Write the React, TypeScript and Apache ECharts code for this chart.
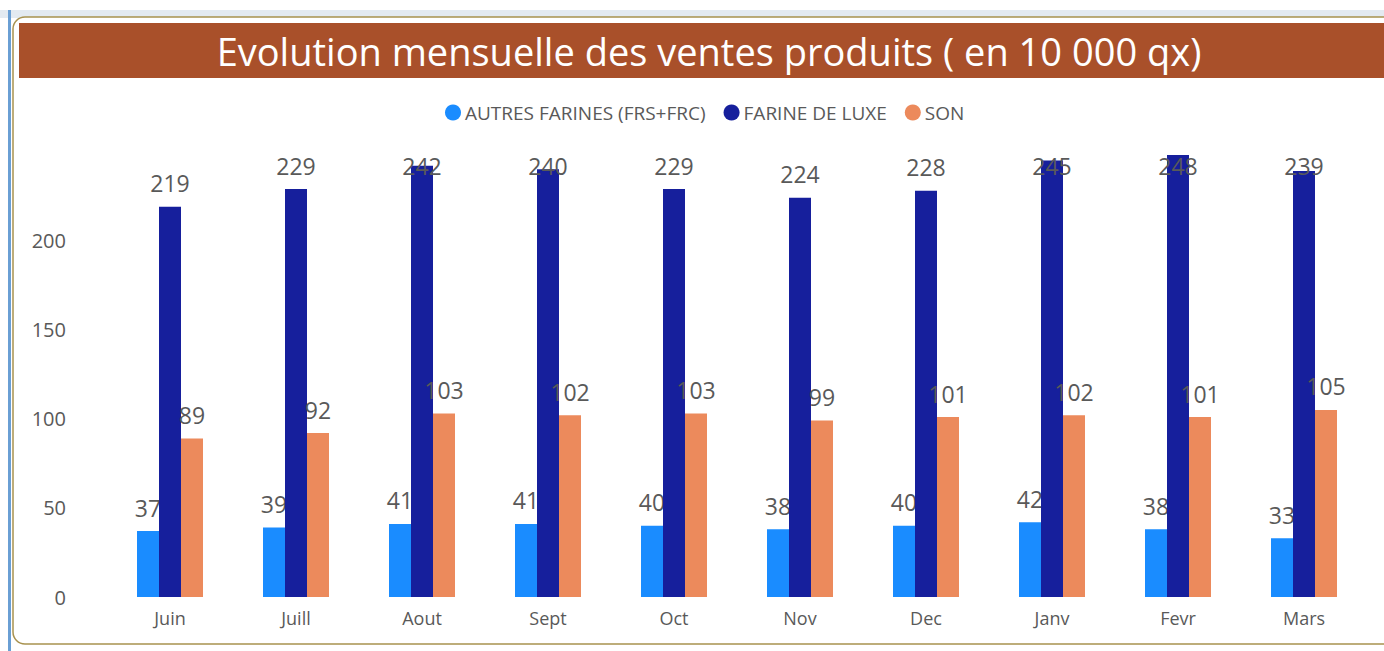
import React, { useEffect, useRef } from "react";
import * as echarts from "echarts";

const categories = ["Juin", "Juill", "Aout", "Sept", "Oct", "Nov", "Dec", "Janv", "Fevr", "Mars"];
const autresFarines = [37, 39, 41, 41, 40, 38, 40, 42, 38, 33];
const farineLuxe = [219, 229, 242, 240, 229, 224, 228, 245, 248, 239];
const son = [89, 92, 103, 102, 103, 99, 101, 102, 101, 105];
const seriesNames = ["AUTRES FARINES (FRS+FRC)", "FARINE DE LUXE", "SON"];
const titleText = "Evolution mensuelle des ventes produits ( en 10 000 qx)";

const FONT = "'Open Sans', sans-serif";
const GRID_TOP = 151.5;
const GRID_BOTTOM_Y = 597;
const Y_MAX = 250;

export default function App() {
  const ref = useRef<HTMLDivElement>(null);
  useEffect(() => {
    if (!ref.current) return;
    const chart = echarts.init(ref.current, undefined, { renderer: "svg" });
    const pxPerUnit = (GRID_BOTTOM_Y - GRID_TOP) / Y_MAX;
    const labelCap = GRID_BOTTOM_Y - 166;
    const labelStyle = {
      show: true,
      position: "top" as const,
      distance: 12,
      color: "#595959",
      fontSize: 23,
      fontFamily: FONT,
    };
    const mkData = (arr: number[], clamp: boolean) =>
      arr.map((v) => {
        const off = clamp ? Math.max(0, v * pxPerUnit + 23 - labelCap) : 0;
        return off > 0 ? { value: v, label: { offset: [0, off] } } : v;
      });
    chart.setOption({
      animation: false,
      backgroundColor: "#ffffff",
      graphic: [
        { type: "rect", shape: { x: 0, y: 10, width: 1384, height: 8 }, style: { fill: "#e3eaf1" }, z: 0 },
        {
          type: "rect",
          shape: { x: 13, y: 17, width: 1420, height: 627, r: 12 },
          style: { fill: "#ffffff", stroke: "#a8924f", lineWidth: 1.5 },
          z: 0,
        },
        { type: "rect", shape: { x: 8, y: 10, width: 3, height: 641 }, style: { fill: "#6a9fd4" }, z: 1 },
        { type: "rect", shape: { x: 19, y: 23, width: 1365, height: 55 }, style: { fill: "#a9502a" }, z: 1 },
        {
          type: "text",
          x: 709,
          y: 51,
          style: {
            text: titleText,
            fill: "#ffffff",
            font: `38px ${FONT}`,
            textAlign: "center",
            textVerticalAlign: "middle",
          },
          z: 2,
        },
      ],
      legend: {
        left: 440,
        top: 98,
        icon: "circle",
        itemWidth: 16,
        itemHeight: 16,
        itemGap: 18,
        textStyle: { color: "#595959", fontSize: 19, fontFamily: FONT, padding: [0, 0, 0, -1] },
        data: seriesNames,
      },
      grid: { left: 107, right: 17, top: GRID_TOP, bottom: 651 - GRID_BOTTOM_Y },
      xAxis: {
        type: "category",
        data: categories,
        axisLine: { show: false },
        axisTick: { show: false },
        axisLabel: { color: "#595959", fontSize: 18, fontFamily: FONT, margin: 12 },
      },
      yAxis: {
        type: "value",
        min: 0,
        max: Y_MAX,
        interval: 50,
        splitLine: { show: false },
        axisLine: { show: false },
        axisTick: { show: false },
        axisLabel: { color: "#595959", fontSize: 20, fontFamily: FONT, margin: 41, showMaxLabel: false },
      },
      series: [
        {
          name: seriesNames[0],
          type: "bar",
          data: mkData(autresFarines, false),
          barWidth: 22,
          barGap: "0%",
          itemStyle: { color: "#1a8cff" },
          label: labelStyle,
          z: 2,
        },
        {
          name: seriesNames[1],
          type: "bar",
          data: mkData(farineLuxe, true),
          barWidth: 22,
          barGap: "0%",
          itemStyle: { color: "#161f9c" },
          label: labelStyle,
          z: 3,
        },
        {
          name: seriesNames[2],
          type: "bar",
          data: mkData(son, false),
          barWidth: 22,
          barGap: "0%",
          itemStyle: { color: "#ec8a5c" },
          label: labelStyle,
          z: 4,
        },
      ],
    });
    return () => chart.dispose();
  }, []);
  return (
    <div
      ref={ref}
      style={{ position: "fixed", left: 0, top: 0, width: 1384, height: 651 }}
    />
  );
}
